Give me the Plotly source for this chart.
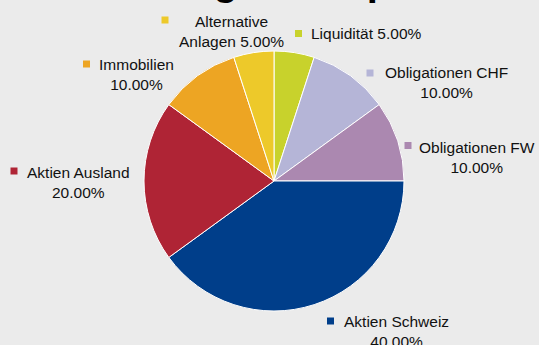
import plotly.graph_objects as go

W, H = 539, 345

# ---- data ----
categories = ["Liquidität", "Obligationen CHF", "Obligationen FW", "Aktien Schweiz",
              "Aktien Ausland", "Immobilien", "Alternative Anlagen"]
values = [5, 10, 10, 40, 20, 10, 5]
label_names = ["Liquidität", "Obligationen CHF", "Obligationen FW", "Aktien Schweiz",
               "Aktien Ausland", "Immobilien", "Alternative<br>Anlagen"]
title_text = "Strategie Beispiel"

# ---- styles ----
colors = ["#C8D22C", "#B5B5D7", "#AB88B0", "#003E8A", "#AF2435", "#EDA523", "#EDC92A"]
bg = "#EBEBEB"
font_family = "Liberation Sans, Arial, sans-serif"

# label layout in pixels: (text center x, block center y, square x, square y, one_line)
label_pos = [
    (366, 34, 298.5, 33.5, True),
    (446, 82, 370, 73, False),
    (477, 157, 408, 145.5, False),
    (396, 331, 330.5, 321, False),
    (78, 182, 14, 171, False),
    (136, 74, 86.5, 64, False),
    (231, 31, 165, 20, False),
]

def px(x):
    return x / W

def py(y):
    return 1 - y / H

total = sum(values)
fig = go.Figure()
cx, cy, r = 274, 181, 130
fig.add_trace(go.Pie(
    labels=categories, values=values, sort=False, direction="clockwise", rotation=0,
    marker=dict(colors=colors, line=dict(color="white", width=1)),
    textinfo="none", hoverinfo="label+percent", showlegend=False,
    domain=dict(x=[px(cx - r), px(cx + r)], y=[py(cy + r), py(cy - r)]),
))

annotations = []
shapes = []
for name, v, col, (tx, ty, sx, sy, one) in zip(label_names, values, colors, label_pos):
    pct = f"{v / total * 100:.2f}%"
    if one or "<br>" in name:
        txt = f"{name} {pct}"
    else:
        txt = f"{name}<br>{pct}"
    annotations.append(dict(
        x=px(tx), y=py(ty), xref="paper", yref="paper", text=txt, showarrow=False,
        xanchor="center", yanchor="middle", align="center",
        font=dict(family=font_family, size=15.5, color="#111111"),
    ))
    s = 3.5
    shapes.append(dict(type="rect", xref="paper", yref="paper",
                       x0=px(sx - s), x1=px(sx + s), y0=py(sy + s), y1=py(sy - s),
                       fillcolor=col, line=dict(width=0)))

annotations.append(dict(
    x=px(268), y=py(-19), xref="paper", yref="paper", text=f"<b>{title_text}</b>",
    showarrow=False, xanchor="center", yanchor="middle",
    font=dict(family=font_family, size=40, color="#000000"),
))

fig.update_layout(
    width=W, height=H, margin=dict(l=0, r=0, t=0, b=0),
    paper_bgcolor=bg, plot_bgcolor=bg,
    annotations=annotations, shapes=shapes,
)

fig.write_html("out.html")
